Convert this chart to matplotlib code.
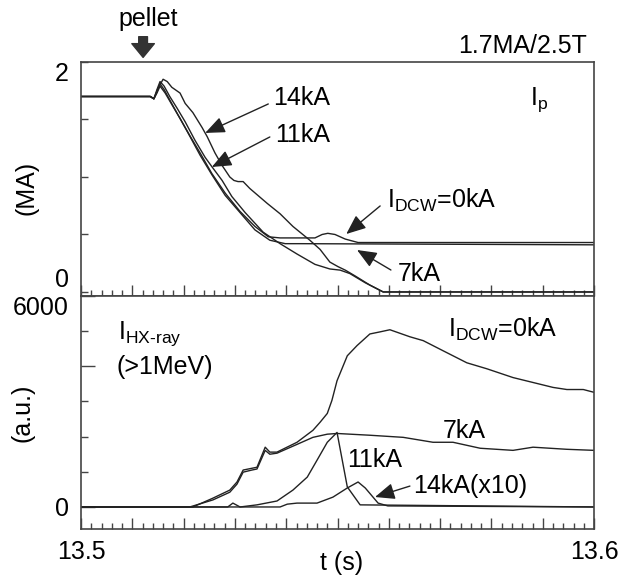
import numpy as np
import matplotlib
matplotlib.use('Agg')
import matplotlib.pyplot as plt
from matplotlib.ticker import MultipleLocator, FixedLocator, FuncFormatter

plt.rcParams['font.family'] = ['Liberation Sans', 'DejaVu Sans']
plt.rcParams['mathtext.fontset'] = 'custom'
plt.rcParams['mathtext.rm'] = 'Liberation Sans'
plt.rcParams['mathtext.it'] = 'Liberation Sans:italic'
plt.rcParams['mathtext.bf'] = 'Liberation Sans:bold'

# ---- plasma current Ip (MA) ----
t_ip_0 = [13.5, 13.5135, 13.5142, 13.5148, 13.5154, 13.5164, 13.5177, 13.5193, 13.5212, 13.5232,
          13.5255, 13.5281, 13.5310, 13.5339, 13.5365, 13.5388, 13.5427, 13.5456, 13.5470, 13.5481,
          13.5495, 13.5515, 13.5540, 13.6]
ip_0 = [1.70, 1.70, 1.68, 1.73, 1.79, 1.73, 1.63, 1.51, 1.36, 1.21,
        1.03, 0.86, 0.70, 0.57, 0.48, 0.47, 0.47, 0.47, 0.50, 0.51,
        0.50, 0.46, 0.43, 0.43]

t_ip_7 = [13.5, 13.5135, 13.5142, 13.5148, 13.5154, 13.5162, 13.5173, 13.5189, 13.5209, 13.5232,
          13.5255, 13.5281, 13.5310, 13.5339, 13.5368, 13.5398, 13.5427, 13.6]
ip_7 = [1.70, 1.70, 1.68, 1.74, 1.81, 1.76, 1.67, 1.54, 1.38, 1.19,
        1.02, 0.84, 0.69, 0.54, 0.45, 0.42, 0.42, 0.41]

t_ip_11 = [13.5, 13.5135, 13.5142, 13.5148, 13.5154, 13.5162, 13.5173, 13.5187, 13.5203, 13.5222,
           13.5242, 13.5255, 13.5275, 13.5294, 13.5320, 13.5355, 13.5388, 13.5421, 13.5456, 13.5485,
           13.5505, 13.5524, 13.5554, 13.5589, 13.6]
ip_11 = [1.70, 1.70, 1.68, 1.76, 1.83, 1.79, 1.70, 1.60, 1.48, 1.32,
         1.17, 1.09, 0.97, 0.83, 0.69, 0.52, 0.42, 0.33, 0.24, 0.20,
         0.19, 0.16, 0.08, 0.0, 0.0]

t_ip_14 = [13.5, 13.5135, 13.5142, 13.5150, 13.5160, 13.5168, 13.5177, 13.5193, 13.5203, 13.5218,
           13.5236, 13.5246, 13.5261, 13.5275, 13.5290, 13.5298, 13.5306, 13.5316, 13.5329, 13.5363,
           13.5388, 13.5413, 13.5446, 13.5466, 13.5485, 13.5501, 13.5515, 13.5534, 13.5563, 13.5589, 13.6]
ip_14 = [1.70, 1.70, 1.68, 1.77, 1.85, 1.83, 1.78, 1.73, 1.64, 1.56,
         1.43, 1.35, 1.21, 1.10, 1.00, 0.97, 0.96, 0.96, 0.90, 0.77,
         0.68, 0.57, 0.45, 0.37, 0.26, 0.22, 0.19, 0.14, 0.06, 0.0, 0.0]

# ---- hard X-ray (>1MeV), a.u. ----
t_hx_0 = [13.5, 13.5218, 13.5257, 13.5290, 13.5304, 13.5316, 13.5333, 13.5343, 13.5359, 13.5368,
          13.5382, 13.5421, 13.5452, 13.5466, 13.5480, 13.5489, 13.5499, 13.5519, 13.5538, 13.5563,
          13.5583, 13.5602, 13.5641, 13.5667, 13.5706, 13.5752, 13.5791, 13.5842, 13.5881, 13.5920,
          13.5947, 13.5979, 13.6]
hx_0 = [0, 0, 250, 480, 710, 1050, 1100, 1130, 1700, 1560,
        1560, 1840, 2180, 2410, 2660, 3030, 3590, 4300, 4590, 4920,
        4980, 5040, 4840, 4730, 4440, 4100, 3930, 3680, 3540, 3400,
        3340, 3340, 3260]

t_hx_7 = [13.5, 13.5212, 13.5257, 13.5290, 13.5304, 13.5316, 13.5333, 13.5343, 13.5359, 13.5368,
          13.5382, 13.5421, 13.5452, 13.5480, 13.5499, 13.5563, 13.5628, 13.5686, 13.5725, 13.5778,
          13.5842, 13.5881, 13.5947, 13.6]
hx_7 = [0, 0, 200, 420, 650, 990, 1050, 1080, 1610, 1500,
        1530, 1780, 1980, 2070, 2090, 2040, 1980, 1840, 1840, 1670,
        1610, 1700, 1640, 1610]

t_hx_11 = [13.5, 13.5286, 13.5296, 13.5310, 13.5343, 13.5382, 13.5413, 13.5441, 13.5460, 13.5480,
           13.5499, 13.5519, 13.5544, 13.6]
hx_11 = [0, 0, 110, 0, 60, 170, 480, 850, 1330, 1840,
         2120, 570, 60, 0]

t_hx_14 = [13.5, 13.5388, 13.5402, 13.5421, 13.5460, 13.5491, 13.5519, 13.5540, 13.5554, 13.5579,
           13.5598, 13.6]
hx_14 = [0, 0, 80, 110, 110, 280, 540, 710, 540, 110,
         30, 0]

LC = '#222222'
SC = '#444444'
FS = 18

fig = plt.figure(figsize=(6.28, 5.86), dpi=100)
ax1 = fig.add_axes([0.129, 0.4949, 0.817, 0.3993])
ax2 = fig.add_axes([0.129, 0.0973, 0.817, 0.3976])

for t, v in [(t_ip_0, ip_0), (t_ip_7, ip_7), (t_ip_11, ip_11), (t_ip_14, ip_14)]:
    ax1.plot(t, v, color=LC, lw=1.0)
for t, v in [(t_hx_0, hx_0), (t_hx_7, hx_7), (t_hx_11, hx_11), (t_hx_14, hx_14)]:
    ax2.plot(t, v, color=LC, lw=1.0)

ax1.set_xlim(13.5, 13.6)
ax2.set_xlim(13.5, 13.6)
ax1.set_ylim(-0.035, 2.0)
ax2.set_ylim(-626, 6000)

for ax in (ax1, ax2):
    for s in ax.spines.values():
        s.set_color(SC)
        s.set_linewidth(1.2)
    ax.xaxis.set_major_locator(MultipleLocator(0.01))
    ax.xaxis.set_minor_locator(MultipleLocator(0.002))
    ax.tick_params(axis='x', which='major', direction='in', length=8, width=1.0, color=SC,
                   top=False, pad=8, labelsize=FS)
    ax.tick_params(axis='x', which='minor', direction='in', length=4.3, width=1.0, color=SC, top=False)
    ax.tick_params(axis='y', which='both', direction='in', width=1.0, color=SC,
                   right=False, pad=9, labelsize=FS)

ax1.tick_params(axis='x', labelbottom=False)
ax2.xaxis.set_major_formatter(FuncFormatter(
    lambda v, p: f'{v:.1f}' if abs(v - 13.5) < 1e-6 or abs(v - 13.6) < 1e-6 else ''))

ax1.yaxis.set_major_locator(FixedLocator([0, 2]))
ax1.yaxis.set_minor_locator(FixedLocator([0.5, 1.0, 1.5]))
ax1.set_yticklabels(['0', '2'])
ax1.tick_params(axis='y', which='both', length=5)
lbls = ax1.get_yticklabels()
lbls[0].set_va('bottom')
lbls[1].set_va('top')

ax2.yaxis.set_major_locator(FixedLocator([0, 4000, 6000]))
ax2.yaxis.set_minor_locator(FixedLocator([1000, 2000, 3000, 5000]))
ax2.set_yticklabels(['0', '', '6000'])
ax2.tick_params(axis='y', which='major', length=10)
ax2.tick_params(axis='y', which='minor', length=5)
ax2.get_yticklabels()[2].set_va('top')

arr = dict(arrowstyle='-|>,head_length=0.6,head_width=0.25', color=LC, lw=1.0,
           mutation_scale=20, shrinkA=0, shrinkB=0)

# top panel annotations
ax1.annotate('', xy=(13.5242, 1.383), xytext=(13.5365, 1.635), arrowprops=arr)
ax1.text(13.5374, 1.687, '14kA', fontsize=FS, va='center', ha='left')
ax1.annotate('', xy=(13.5255, 1.087), xytext=(13.5368, 1.348), arrowprops=arr)
ax1.text(13.5378, 1.365, '11kA', fontsize=FS, va='center', ha='left')
ax1.annotate('', xy=(13.5517, 0.504), xytext=(13.5583, 0.748), arrowprops=arr)
ax1.text(13.5596, 0.73, r'I$_{\rm DCW}$=0kA', fontsize=FS, va='baseline', ha='left')
ax1.annotate('', xy=(13.5538, 0.365), xytext=(13.5604, 0.191), arrowprops=arr)
ax1.text(13.5618, 0.157, '7kA', fontsize=FS, va='center', ha='left')
ax1.text(13.5875, 1.626, r'I$_{\rm p}$', fontsize=FS, va='baseline', ha='left')
ax1.text(0.986, 1.038, '1.7MA/2.5T', transform=ax1.transAxes, fontsize=FS,
         va='baseline', ha='right')

# pellet arrow
ax1.annotate('', xy=(13.5121, 2.04), xytext=(13.5121, 2.22), annotation_clip=False,
             arrowprops=dict(arrowstyle='simple,head_length=0.55,head_width=0.9,tail_width=0.35',
                             fc='#333333', ec='#333333', mutation_scale=18, shrinkA=0, shrinkB=0))
ax1.text(13.5131, 2.37, 'pellet', fontsize=FS, va='center', ha='center', clip_on=False)

# bottom panel annotations
ax2.text(13.5072, 4783, r'I$_{\text{HX-ray}}$', fontsize=FS, va='baseline', ha='left')
ax2.text(13.5070, 3792, '(>1MeV)', fontsize=FS, va='baseline', ha='left')
ax2.text(13.5715, 4839, r'I$_{\rm DCW}$=0kA', fontsize=FS, va='baseline', ha='left')
ax2.text(13.5706, 1953, '7kA', fontsize=FS, va='baseline', ha='left')
ax2.text(13.5519, 1132, '11kA', fontsize=FS, va='baseline', ha='left')
ax2.annotate('', xy=(13.5573, 283), xytext=(13.5641, 594), arrowprops=arr)
ax2.text(13.5647, 594, '14kA(x10)', fontsize=FS, va='center', ha='left')

fig.text(27 / 628, 1 - 188 / 586, '(MA)', rotation=90, fontsize=FS, va='center', ha='center')
fig.text(22 / 628, 1 - 413 / 586, '(a.u.)', rotation=90, fontsize=FS, va='center', ha='center')
fig.text(342 / 628, 1 - 563 / 586, 't (s)', fontsize=FS, va='center', ha='center')

fig.savefig('out.png', dpi=100)
